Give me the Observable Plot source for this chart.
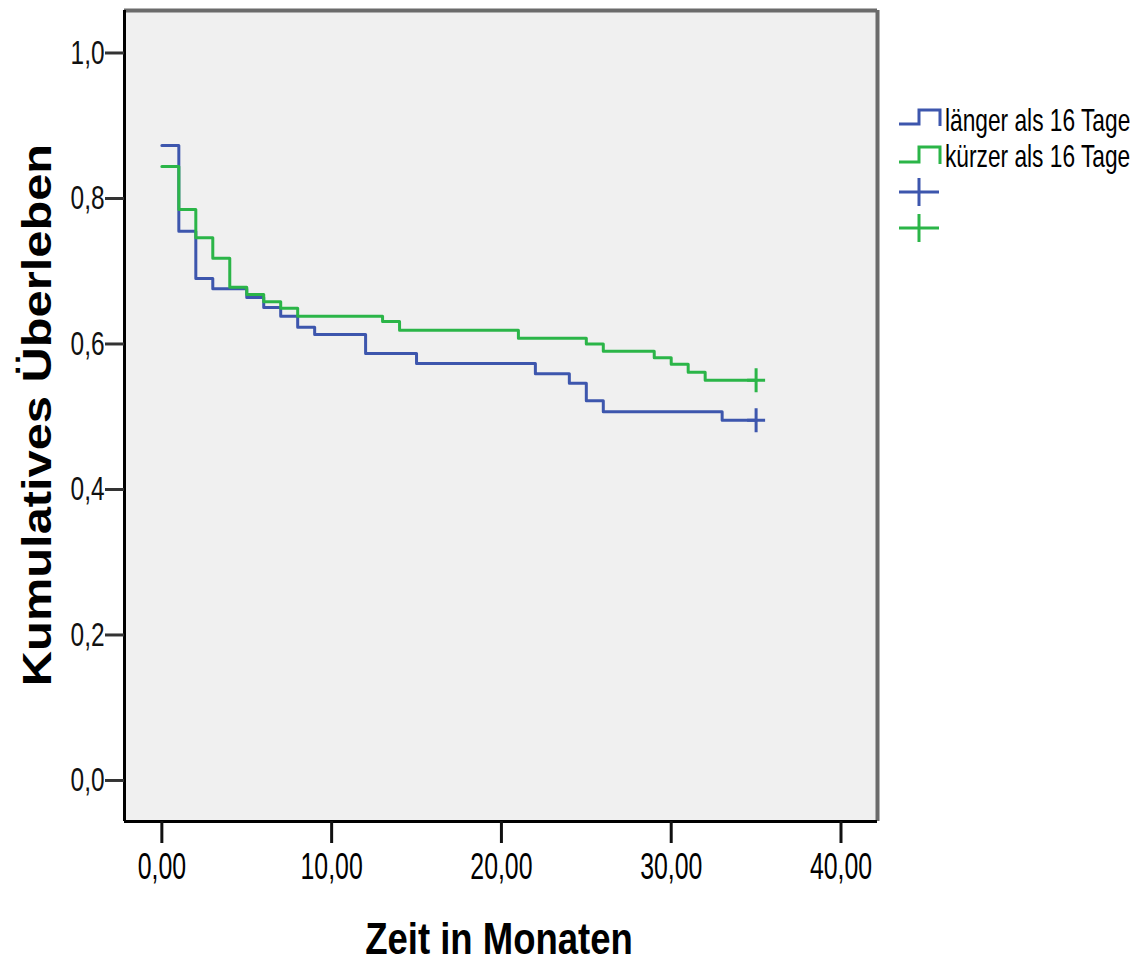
<!DOCTYPE html>
<html><head><meta charset="utf-8">
<script src="https://cdn.jsdelivr.net/npm/d3@7"></script>
<script src="https://cdn.jsdelivr.net/npm/@observablehq/plot@0.6"></script>
<style>
body{margin:0;background:#fff;}
#wrap{position:relative;width:1141px;height:964px;}
</style></head><body><div id="wrap"></div>
<script>
// ---- data ----
const groups = ["länger als 16 Tage", "kürzer als 16 Tage"];
const colors = ["#3d56ad", "#2bb548"];
const timesLong = [0, 1, 2, 3, 5, 6, 7, 8, 9, 12, 15, 22, 24, 25, 26, 33, 35];
const survLong  = [0.873, 0.755, 0.690, 0.676, 0.664, 0.650, 0.638, 0.623, 0.613, 0.587, 0.573, 0.559, 0.546, 0.522, 0.507, 0.495, 0.495];
const timesShort = [0, 1, 2, 3, 4, 5, 6, 7, 8, 13, 14, 21, 25, 26, 29, 30, 31, 32, 35];
const survShort  = [0.844, 0.785, 0.746, 0.718, 0.678, 0.668, 0.658, 0.649, 0.638, 0.631, 0.619, 0.608, 0.600, 0.590, 0.581, 0.572, 0.561, 0.550, 0.550];
const censorTime = [35, 35];
const censorSurv = [0.495, 0.550];
const xTicks = [0, 10, 20, 30, 40];
const yTicks = [0, 0.2, 0.4, 0.6, 0.8, 1.0];
const xTitle = "Zeit in Monaten";
const yTitle = "Kumulatives Überleben";

// ---- tables ----
const rows = [
  ...timesLong.map((t, i) => ({group: groups[0], t, s: survLong[i]})),
  ...timesShort.map((t, i) => ({group: groups[1], t, s: survShort[i]}))
];
const censorRows = censorTime.map((t, i) => ({group: groups[i], t, s: censorSurv[i]}));

const xDomain = [-2.2, 42.15];
const yDomain = [-0.0564, 1.0584];

const cross = {
  draw(ctx) {
    ctx.moveTo(-9, 0); ctx.lineTo(9, 0);
    ctx.moveTo(0, -12); ctx.lineTo(0, 12);
  }
};

const fmtX = d => d.toFixed(2).replace(".", ",");
const fmtY = d => d.toFixed(1).replace(".", ",");

const plot = Plot.plot({
  width: 1141, height: 964,
  marginLeft: 124, marginRight: 264, marginTop: 10, marginBottom: 143,
  x: {domain: xDomain},
  y: {domain: yDomain},
  color: {domain: groups, range: colors},
  style: {fontFamily: "'Liberation Sans', Arial, sans-serif", background: "transparent", color: "#000"},
  marks: [
    Plot.frame({fill: "#f0f0f0", stroke: "none"}),
    Plot.ruleY([yDomain[1]], {stroke: "#6b6b6b", strokeWidth: 4}),
    Plot.ruleX([xDomain[1]], {stroke: "#6b6b6b", strokeWidth: 4}),
    Plot.ruleX([xDomain[0]], {stroke: "#000", strokeWidth: 3}),
    Plot.ruleY([yDomain[0]], {stroke: "#000", strokeWidth: 3}),
    Plot.axisX(xTicks, {tickSize: 22, tickPadding: 10, tickFormat: fmtX, fontSize: 36, strokeWidth: 3, stroke: "#111", fill: "#000", label: null}),
    Plot.axisY(yTicks, {tickSize: 19, tickPadding: 1, tickFormat: fmtY, fontSize: 33, strokeWidth: 3, stroke: "#333", fill: "#111", label: null}),
    Plot.line(rows, {x: "t", y: "s", z: "group", stroke: "group", curve: "step-after", strokeWidth: 3}),
    Plot.dot(censorRows, {x: "t", y: "s", stroke: "group", symbol: cross, r: 10, fill: "none", strokeWidth: 3})
  ]
});

document.getElementById("wrap").appendChild(plot);

// narrow the tick labels like the original (glyph compression, positions untouched)
function squeeze(sel, factor) {
  plot.querySelectorAll(sel).forEach(t => {
    const w = t.getComputedTextLength();
    if (w > 0) {
      t.setAttribute("textLength", (w * factor).toFixed(2));
      t.setAttribute("lengthAdjust", "spacingAndGlyphs");
    }
  });
}
squeeze('[aria-label="x-axis tick label"] text', 0.69);
squeeze('[aria-label="y-axis tick label"] text', 0.74);

const svg = d3.select(plot);
// axis titles
svg.append("text")
  .attr("transform", "translate(499,954) scale(1,1.2)")
  .attr("text-anchor", "middle")
  .attr("font-family", "'Liberation Sans', Arial, sans-serif")
  .attr("font-weight", "bold").attr("font-size", 36.5).attr("fill", "#000")
  .text(xTitle);
svg.append("text")
  .attr("transform", "translate(51,415) rotate(-90) scale(1.22,1)")
  .attr("text-anchor", "middle")
  .attr("font-family", "'Liberation Sans', Arial, sans-serif")
  .attr("font-weight", "bold").attr("font-size", 40).attr("fill", "#000")
  .text(yTitle);

// legend
const lg = svg.append("g").attr("font-family", "'Liberation Sans', Arial, sans-serif").attr("text-anchor", "start");
const rowsY = [[124, 110, 131], [162, 147, 167]];
groups.forEach((g, i) => {
  const [lo, hi, base] = rowsY[i];
  lg.append("path").attr("d", `M899,${lo}H919V${hi}H940V${lo + 2}`)
    .attr("fill", "none").attr("stroke", colors[i]).attr("stroke-width", 3);
  lg.append("text").attr("transform", `translate(945,${base}) scale(0.71,1)`)
    .attr("text-anchor", "start")
    .attr("font-size", 32).attr("fill", "#000").text(g);
});
[192, 228].forEach((cy, i) => {
  lg.append("path").attr("d", `M899,${cy}H939M919,${cy - 14}V${cy + 14}`)
    .attr("fill", "none").attr("stroke", colors[i]).attr("stroke-width", 3);
});
</script>
</body></html>
